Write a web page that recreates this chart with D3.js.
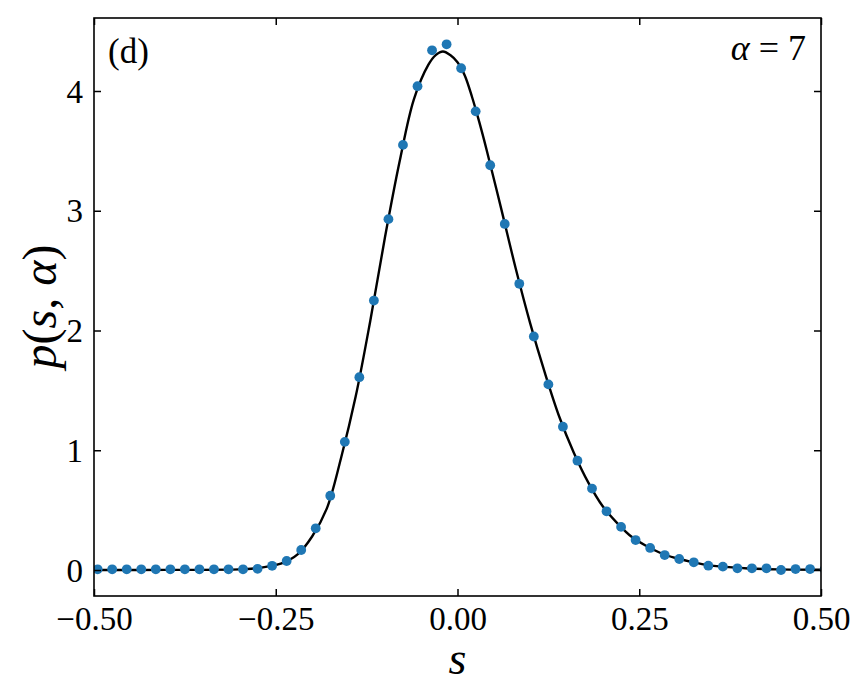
<!DOCTYPE html>
<html>
<head>
<meta charset="utf-8">
<script src="https://cdn.jsdelivr.net/npm/d3@7"></script>
<style>
  body { margin: 0; background: #fff; }
  text { font-family: "Liberation Serif", "DejaVu Serif", serif; fill: #000; }
</style>
</head>
<body>
<div id="chart"></div>
<script>
// measured points (blue dots)
var pointS = [-0.495, -0.475, -0.455, -0.435, -0.415, -0.395, -0.375, -0.355, -0.335, -0.315,
              -0.295, -0.275, -0.255, -0.235, -0.215, -0.195, -0.175, -0.155, -0.135, -0.115,
              -0.095, -0.075, -0.055, -0.035, -0.015, 0.005, 0.025, 0.045, 0.065, 0.085,
              0.105, 0.125, 0.145, 0.165, 0.185, 0.205, 0.225, 0.245, 0.265, 0.285,
              0.305, 0.325, 0.345, 0.365, 0.385, 0.405, 0.425, 0.445, 0.465, 0.485, 0.505];
var pointP = [0.006, 0.006, 0.006, 0.006, 0.006, 0.006, 0.006, 0.006, 0.006, 0.006,
              0.006, 0.01, 0.035, 0.075, 0.167, 0.348, 0.62, 1.07, 1.61, 2.25,
              2.93, 3.55, 4.04, 4.34, 4.39, 4.19, 3.83, 3.38, 2.89, 2.39,
              1.95, 1.55, 1.197, 0.913, 0.68, 0.49, 0.36, 0.25, 0.184, 0.125,
              0.092, 0.064, 0.036, 0.028, 0.014, 0.014, 0.014, 0.0, 0.008, 0.008, 0.005];

// theory curve (black line)
var curveS = [-0.5, -0.4, -0.3, -0.28, -0.26, -0.24, -0.22, -0.2, -0.18, -0.16, -0.14, -0.12,
              -0.1, -0.08, -0.06, -0.04, -0.03, -0.02, -0.01, 0.0, 0.01, 0.02, 0.03, 0.04,
              0.06, 0.08, 0.1, 0.12, 0.14, 0.16, 0.18, 0.2, 0.22, 0.24, 0.26, 0.28, 0.3,
              0.32, 0.34, 0.36, 0.4, 0.44, 0.5];
var curveP = [0.0, 0.001, 0.005, 0.012, 0.03, 0.06, 0.13, 0.28, 0.51, 0.94, 1.45, 2.08,
              2.77, 3.40, 3.93, 4.22, 4.30, 4.33, 4.30, 4.24, 4.13, 3.95, 3.74, 3.51,
              3.02, 2.52, 2.06, 1.65, 1.28, 0.98, 0.73, 0.53, 0.39, 0.275, 0.20, 0.14, 0.10,
              0.07, 0.045, 0.03, 0.013, 0.005, 0.002];

var xTicks = [-0.5, -0.25, 0, 0.25, 0.5];
var yTicks = [0, 1, 2, 3, 4];

var width = 866, height = 700;
var margin = { top: 18, right: 45, bottom: 104, left: 94 };
var plotW = width - margin.left - margin.right,
    plotH = height - margin.top - margin.bottom;

var svg = d3.select("#chart").append("svg")
    .attr("width", width)
    .attr("height", height);

var x = d3.scaleLinear().domain([-0.5, 0.5]).range([0, plotW]);
var y = d3.scaleLinear().domain([-0.2171, 4.6096]).range([plotH, 0]);

var g = svg.append("g")
    .attr("transform", "translate(" + margin.left + "," + margin.top + ")");

g.append("clipPath").attr("id", "clip")
  .append("rect").attr("width", plotW).attr("height", plotH);

// curve
var line = d3.line()
    .x(function(d, i) { return x(curveS[i]); })
    .y(function(d) { return y(d); })
    .curve(d3.curveCatmullRom.alpha(0.5));

g.append("path")
    .datum(curveP)
    .attr("clip-path", "url(#clip)")
    .attr("fill", "none")
    .attr("stroke", "#000")
    .attr("stroke-width", 2.4)
    .attr("d", line);

// dots
g.append("g").attr("clip-path", "url(#clip)")
  .selectAll("circle")
  .data(pointP)
  .enter()
  .append("circle")
    .attr("cx", function(d, i) { return x(pointS[i]); })
    .attr("cy", function(d) { return y(d); })
    .attr("r", 4.9)
    .attr("fill", "#1f77b4");

// axes, ticks pointing inwards on all four sides
function fmtX(d) { return (d < 0 ? "\u2212" : "") + Math.abs(d).toFixed(2); }

var xAxis = g.append("g")
    .attr("transform", "translate(0," + plotH + ")")
    .call(d3.axisBottom(x).tickValues(xTicks).tickFormat(fmtX)
      .tickSizeInner(-7).tickSizeOuter(0).tickPadding(11));
var yAxis = g.append("g")
    .call(d3.axisLeft(y).tickValues(yTicks).tickFormat(d3.format("d"))
      .tickSizeInner(-7).tickSizeOuter(0).tickPadding(11));
g.append("g")
    .call(d3.axisTop(x).tickValues(xTicks).tickFormat("")
      .tickSizeInner(-7).tickSizeOuter(0));
g.append("g")
    .attr("transform", "translate(" + plotW + ",0)")
    .call(d3.axisRight(y).tickValues(yTicks).tickFormat("")
      .tickSizeInner(-7).tickSizeOuter(0));

g.selectAll(".domain").remove();
g.selectAll(".tick line").attr("stroke", "#000").attr("stroke-width", 1.5);
g.selectAll(".tick text").style("font-size", "33px").attr("fill", "#000")
    .style("font-family", "'Liberation Serif', serif");
xAxis.selectAll(".tick text").attr("dy", "0.71em");
yAxis.selectAll(".tick text").attr("dy", "0.34em");

// frame
g.append("rect")
    .attr("width", plotW)
    .attr("height", plotH)
    .attr("fill", "none")
    .attr("stroke", "#000")
    .attr("stroke-width", 1.6);

// labels
svg.append("text")
    .attr("x", margin.left + plotW / 2)
    .attr("y", 674)
    .attr("text-anchor", "middle")
    .style("font-size", "46px")
    .style("font-style", "italic")
    .text("s");

svg.append("text")
    .attr("transform", "translate(56," + (margin.top + y(2.2)) + ") rotate(-90)")
    .attr("text-anchor", "middle")
    .style("font-size", "48px")
    .html("<tspan font-style='italic'>p</tspan>(<tspan font-style='italic'>s</tspan>, <tspan font-style='italic'>\u03b1</tspan>)");

svg.append("text")
    .attr("x", 108)
    .attr("y", 63)
    .style("font-size", "35px")
    .text("(d)");

svg.append("text")
    .attr("x", 806)
    .attr("y", 60)
    .attr("text-anchor", "end")
    .style("font-size", "36px")
    .html("<tspan font-style='italic'>\u03b1</tspan> = 7");
</script>
</body>
</html>
